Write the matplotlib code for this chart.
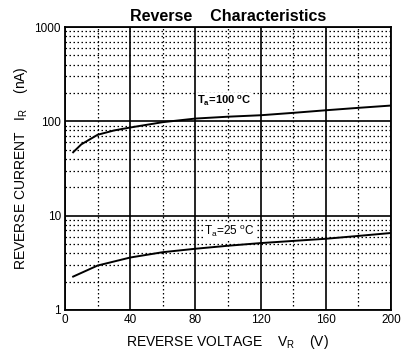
import matplotlib
matplotlib.use("Agg")
import matplotlib.pyplot as plt
from matplotlib.ticker import FixedLocator, NullFormatter

plt.rcParams['font.family'] = ['Liberation Sans', 'DejaVu Sans']

# Data
v_100 = [5, 10, 20, 30, 40, 60, 80, 100, 120, 140, 160, 180, 200]
i_100 = [47, 57, 72, 80, 86, 98, 107, 112, 116, 123, 131, 139, 147]
v_25 = [5, 20, 40, 60, 80, 100, 120, 140, 160, 180, 200]
i_25 = [2.26, 2.96, 3.6, 4.1, 4.46, 4.8, 5.12, 5.4, 5.69, 6.1, 6.55]

x_ticks = [0, 40, 80, 120, 160, 200]
x_minor = [20, 60, 100, 140, 180]
y_ticks = [1, 10, 100, 1000]
y_ticklabels = ['1', '10', '100', '1000']

fig = plt.figure(figsize=(4.12, 3.58), dpi=100)
ax = fig.add_axes([65/412, 1-310/358, 326/412, 283/358])

ax.set_yscale('log')
ax.set_xlim(0, 200)
ax.set_ylim(1, 1000)

ax.xaxis.set_major_locator(FixedLocator(x_ticks))
ax.xaxis.set_minor_locator(FixedLocator(x_minor))
ax.yaxis.set_major_locator(FixedLocator(y_ticks))
minors = [m * d for d in [1, 10, 100] for m in range(2, 10)]
ax.yaxis.set_minor_locator(FixedLocator(minors))
ax.yaxis.set_minor_formatter(NullFormatter())
ax.set_yticklabels(y_ticklabels)

ax.grid(which='major', color='black', linestyle='-', linewidth=1.2)
ax.grid(which='minor', color='black', linestyle=(0, (1.2, 2.0)), linewidth=0.9)
ax.tick_params(which='both', length=0, labelsize=8.5, pad=3)
for s in ax.spines.values():
    s.set_linewidth(1.3)

ax.plot(v_100, i_100, color='black', linewidth=1.4, zorder=3)
ax.plot(v_25, i_25, color='black', linewidth=1.4, zorder=3)

ax.text(98, 138, r'T$_{\mathregular{a}}$=100 $^{\mathregular{o}}$C', fontsize=8,
        fontweight='bold', ha='center', va='bottom', zorder=4,
        bbox=dict(facecolor='white', edgecolor='none', pad=0.5))
ax.text(101, 5.6, r'T$_{\mathregular{a}}$=25 $^{\mathregular{o}}$C', fontsize=8.5,
        ha='center', va='bottom', zorder=4,
        bbox=dict(facecolor='white', edgecolor='none', pad=0.5))

ax.set_title('Reverse    Characteristics', fontsize=11.5, fontweight='bold', pad=4)
ax.set_xlabel(r'REVERSE VOLTAGE    V$_{\mathregular{R}}$    (V)', fontsize=10, labelpad=5)
ax.set_ylabel(r'REVERSE CURRENT   I$_{\mathregular{R}}$    (nA)', fontsize=10, labelpad=3)

fig.savefig('out.png', dpi=100)
